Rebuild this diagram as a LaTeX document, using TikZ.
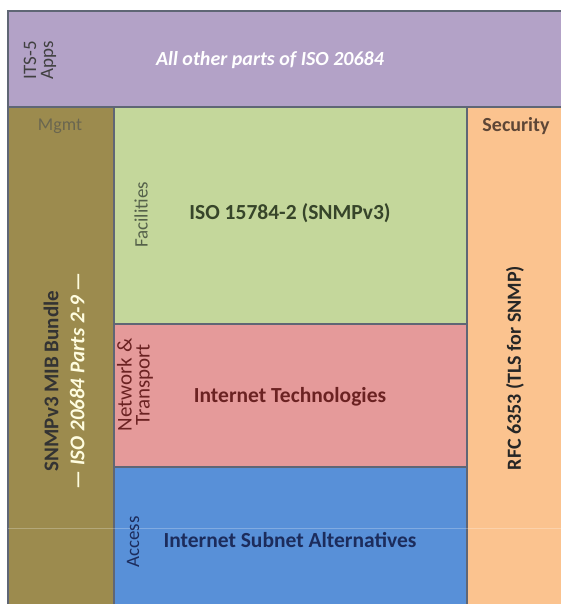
\documentclass[tikz,border=0pt]{standalone}
\usepackage{fontspec}
\setmainfont{Carlito}
\definecolor{appsviolet}{HTML}{B3A2C7}
\definecolor{mgmtolive}{HTML}{9C8B4E}
\definecolor{facgreen}{HTML}{C4D79B}
\definecolor{netred}{HTML}{E59A9A}
\definecolor{accblue}{HTML}{5890D8}
\definecolor{secorange}{HTML}{FBC38F}
\definecolor{edgegray}{HTML}{5F6675}
\definecolor{facink}{HTML}{37452A}
\definecolor{netink}{HTML}{6B2222}
\definecolor{accink}{HTML}{1C2C5C}
\definecolor{mgmtink}{HTML}{6A6650}
\definecolor{secink}{HTML}{5E4636}
\tikzset{
  layer/.style={draw=edgegray, line width=1.2pt},
  bigtext/.style={font=\fontsize{21.5}{24}\selectfont\bfseries},
  sidetext/.style={font=\fontsize{19}{17}\selectfont, rotate=90, align=center}
}
\begin{document}
\begin{tikzpicture}[x=1pt,y=-1pt]
                \useasboundingbox (0,0) rectangle (561,604);
                \fill [white] (0,0) rectangle (561,604);
                % layers
                \draw [layer, fill=appsviolet] (8,11) rectangle (562,107);
                \draw [layer, fill=mgmtolive] (8,107) rectangle (114,605);
                \draw [layer, fill=facgreen] (114,107) rectangle (467,324);
                \draw [layer, fill=netred] (114,324) rectangle (467,467);
                \draw [layer, fill=accblue] (114,467) rectangle (467,605);
                \draw [layer, fill=secorange] (467,107) rectangle (562,605);
                \draw [white, opacity=0.25, line width=1pt] (8,528) -- (561,528);
                % labels
                \draw (40,60) node (apps) [sidetext, text=black!75] {ITS-5\\Apps} ;
                \draw (270,60) node (others) [font=\fontsize{20}{22}\selectfont\bfseries\itshape, text=white] {All other parts of ISO 20684} ;
                \draw (60,126) node (mgmt) [font=\fontsize{18}{18}\selectfont, text=mgmtink] {Mgmt} ;
                \draw (64,381) node (mib) [rotate=90, align=center, font=\fontsize{21}{26}\selectfont\bfseries, text=black!80] {SNMPv3 MIB Bundle\\{\color{white!88!yellow}\itshape --- ISO 20684 Parts 2-9 ---}} ;
                \draw (141,215) node (fac) [sidetext, text=facink!85] {Facilities} ;
                \draw (290,213) node (snmp) [bigtext, text=facink] {ISO 15784-2 (SNMPv3)} ;
                \draw (135,385) node (net) [sidetext, font=\fontsize{21}{18}\selectfont, text=netink] {Network \&\\Transport} ;
                \draw (290,397) node (inet) [bigtext, text=netink] {Internet Technologies} ;
                \draw (133,542) node (acc) [sidetext, text=accink] {Access} ;
                \draw (290,540) node (subnet) [bigtext, text=accink] {Internet Subnet Alternatives} ;
                \draw (516,126) node (sec) [font=\fontsize{20}{20}\selectfont\bfseries, text=secink] {Security} ;
                \draw (515,368) node (tls) [rotate=90, font=\fontsize{20}{22}\selectfont\bfseries, text=black!85] {RFC 6353 (TLS for SNMP)} ;
\end{tikzpicture}
\end{document}
